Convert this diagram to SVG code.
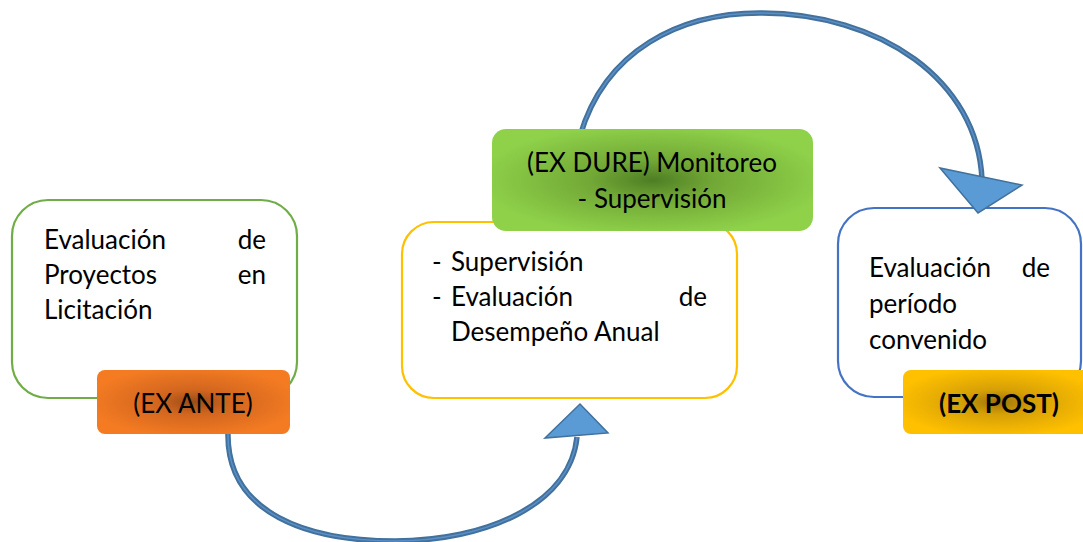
<svg xmlns="http://www.w3.org/2000/svg" width="1083" height="542" viewBox="0 0 1083 542">
<defs>
<radialGradient id="gOrange" cx="50%" cy="50%" r="55%">
<stop offset="0" stop-color="#9B4C18"/>
<stop offset="0.35" stop-color="#D2661F"/>
<stop offset="1" stop-color="#F47B22"/>
</radialGradient>
<radialGradient id="gGreen" cx="50%" cy="50%" r="55%">
<stop offset="0" stop-color="#4E7D24"/>
<stop offset="0.35" stop-color="#72A836"/>
<stop offset="1" stop-color="#8FD24A"/>
</radialGradient>
<radialGradient id="gGold" cx="50%" cy="50%" r="55%">
<stop offset="0" stop-color="#9C730A"/>
<stop offset="0.35" stop-color="#D6A006"/>
<stop offset="1" stop-color="#FFC000"/>
</radialGradient>
</defs>
<style>
.box{fill:#ffffff;stroke-width:2.2}
.t{font-family:Lato,"Liberation Sans",sans-serif;font-size:26px;fill:#000}
.b{font-weight:bold}
.shaft{fill:none;stroke:#41719C;stroke-width:5.5;stroke-linecap:butt}
.shaftIn{fill:none;stroke:#5B8FC7;stroke-width:1.5}
.head{fill:#5B9BD5;stroke:#41719C;stroke-width:1.5;stroke-linejoin:miter}
</style>

<g id="connectors">
<path class="shaft" d="M228,432 C226,515 310,541 395,541 C485,541 570,505 577,437"/>
<path class="shaftIn" d="M228,432 C226,515 310,541 395,541 C485,541 570,505 577,437"/>
<path class="shaft" d="M580,136 C605,50 680,13 760,13 C880,13 978,80 982,180"/>
<path class="shaftIn" d="M580,136 C605,50 680,13 760,13 C880,13 978,80 982,180"/>
</g>

<g id="node-exante">
<rect class="box" x="12" y="200" width="285" height="198" rx="36" stroke="#70AD47"/>
<text class="t" x="44" y="249">Evaluación</text>
<text class="t" x="266" y="249" text-anchor="end">de</text>
<text class="t" x="44" y="284">Proyectos</text>
<text class="t" x="266" y="284" text-anchor="end">en</text>
<text class="t" x="44" y="319">Licitación</text>
<rect x="97" y="370" width="193" height="64" rx="8" fill="url(#gOrange)"/>
<text class="t" x="193" y="413" text-anchor="middle">(EX ANTE)</text>
</g>

<g id="node-exdure">
<rect class="box" x="402" y="222" width="335" height="176" rx="32" stroke="#FFC000"/>
<text class="t" x="432" y="271">-</text>
<text class="t" x="451" y="271">Supervisión</text>
<text class="t" x="432" y="306">-</text>
<text class="t" x="451" y="306">Evaluación</text>
<text class="t" x="707" y="306" text-anchor="end">de</text>
<text class="t" x="451" y="341">Desempeño Anual</text>
<rect x="492" y="129" width="321" height="102" rx="14" fill="url(#gGreen)"/>
<text class="t" x="652" y="172" text-anchor="middle">(EX DURE) Monitoreo</text>
<text class="t" x="652" y="208" text-anchor="middle">- Supervisión</text>
</g>

<g id="node-expost">
<rect class="box" x="838" y="208" width="243" height="189" rx="36" stroke="#4472C4"/>
<text class="t" x="869" y="277">Evaluación</text>
<text class="t" x="1050" y="277" text-anchor="end">de</text>
<text class="t" x="869" y="313">período</text>
<text class="t" x="869" y="349">convenido</text>
<rect x="903" y="370" width="190" height="64" rx="8" fill="url(#gGold)"/>
<text class="t b" x="999" y="413" text-anchor="middle">(EX POST)</text>
</g>

<g id="arrowheads">
<polygon class="head" points="545,438 580,404 608,433"/>
<polygon class="head" points="940,168 978,213 1022,185"/>
</g>
</svg>
